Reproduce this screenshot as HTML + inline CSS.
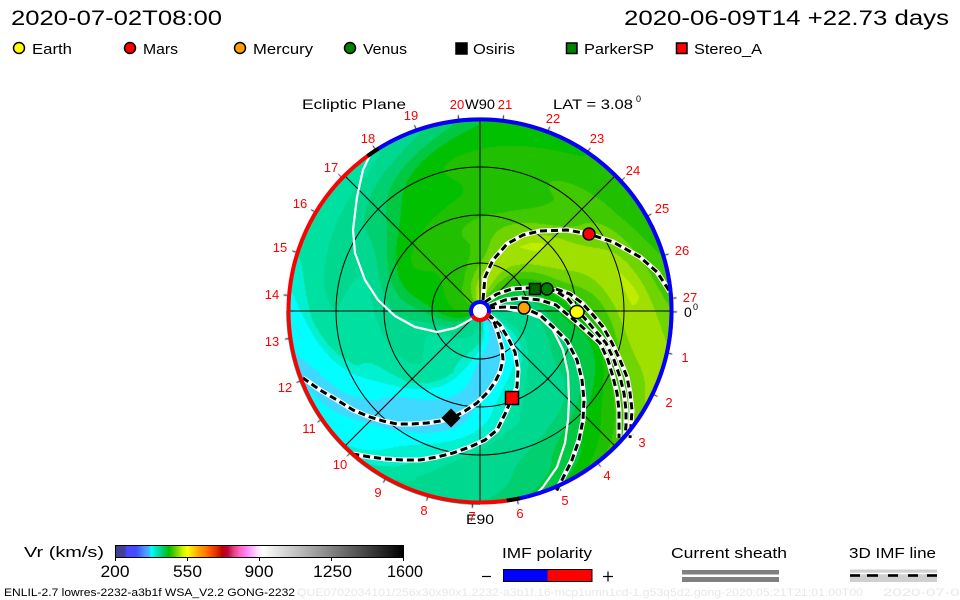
<!DOCTYPE html>
<html><head><meta charset="utf-8">
<style>
html,body{margin:0;padding:0;background:#fff;}
#wrap{position:relative;width:960px;height:600px;overflow:hidden;background:#fff;}
#wrap svg,#wrap canvas{position:absolute;left:0;top:0;}
text{font-family:"Liberation Sans",sans-serif;}
</style></head>
<body>
<div id="wrap">
<svg width="960" height="600" viewBox="0 0 960 600">
  <circle cx="480" cy="311" r="191" fill="#20c000"/>
  <path d="M480 311 L286 311 A194 194 0 0 0 480 505 Z" fill="#00f0d0"/>
</svg>
<canvas id="f" width="960" height="600"></canvas>
<svg width="960" height="600" viewBox="0 0 960 600">
  <defs>
    <linearGradient id="cb" x1="0" x2="1" y1="0" y2="0">
      <stop offset="0" stop-color="#404090"/>
      <stop offset="0.03" stop-color="#404098"/>
      <stop offset="0.04" stop-color="#4848ff"/>
      <stop offset="0.07" stop-color="#4848ff"/>
      <stop offset="0.08" stop-color="#4060ff"/>
      <stop offset="0.10" stop-color="#5090ff"/>
      <stop offset="0.115" stop-color="#40b0ff"/>
      <stop offset="0.125" stop-color="#00ffff"/>
      <stop offset="0.14" stop-color="#00e8c0"/>
      <stop offset="0.155" stop-color="#00d890"/>
      <stop offset="0.17" stop-color="#00c850"/>
      <stop offset="0.185" stop-color="#00c000"/>
      <stop offset="0.20" stop-color="#40c800"/>
      <stop offset="0.215" stop-color="#80d800"/>
      <stop offset="0.23" stop-color="#c0f000"/>
      <stop offset="0.25" stop-color="#ffff00"/>
      <stop offset="0.27" stop-color="#ffd000"/>
      <stop offset="0.29" stop-color="#ffa000"/>
      <stop offset="0.31" stop-color="#ff8000"/>
      <stop offset="0.33" stop-color="#ff5000"/>
      <stop offset="0.35" stop-color="#e03000"/>
      <stop offset="0.37" stop-color="#c00000"/>
      <stop offset="0.39" stop-color="#c00040"/>
      <stop offset="0.41" stop-color="#e04080"/>
      <stop offset="0.43" stop-color="#ff60c0"/>
      <stop offset="0.46" stop-color="#ff90ff"/>
      <stop offset="0.49" stop-color="#ffd8ff"/>
      <stop offset="0.51" stop-color="#ffffff"/>
      <stop offset="1" stop-color="#000000"/>
    </linearGradient>
  </defs>

  <!-- grid -->
  <g stroke="#000" stroke-width="1" fill="none">
    <circle cx="480" cy="311" r="48"/>
    <circle cx="480" cy="311" r="96"/>
    <circle cx="480" cy="311" r="144"/>
    <line x1="287" y1="311" x2="673" y2="311"/>
    <line x1="480" y1="118" x2="480" y2="504"/>
    <line x1="345.6" y1="176.6" x2="614.4" y2="445.4"/>
    <line x1="345.6" y1="445.4" x2="614.4" y2="176.6"/>
  </g>

  <!-- current sheath (white solid) -->
  <g stroke="#fff" stroke-width="2.2" fill="none" stroke-linejoin="round" stroke-linecap="round">
    <polyline points="371,153 363,170 357,197 353,230 355,253 365,280 378,300 395,316 415,327 437,332 455,328 470,320 478,313"/>
    <polyline points="488,309 505,309 523,312 540,318 553,330 563,350 568,373 569,400 568,420 565,443 557,467 543,487 530,501"/>
  </g>

  <!-- 3D IMF lines -->
  <g fill="none" stroke-linejoin="round">
    <g stroke="#fff" stroke-width="5">
      <polyline points="483,300 485,277 493,260 507,244 523,235 540,231 567,230 589,234 613,242 640,257 657,272 670,292"/>
      <polyline points="485,302 497,294 512,289 527,288 541,288 556,291 568,299 577,310 588,322 598,334 606,343 614,360 620,377 624,393 626,410 626,425 625,438"/>
      <polyline points="556,289 570,294 582,303 593,315 603,327 612,343 620,360 627,377 630,393 632,410 631,425 630,438"/>
      <polyline points="490,306 505,300 522,298 540,300 556,305 568,315 580,325 591,335 600,343 608,360 613,377 617,393 619,410 619,425 619,438"/>
      <polyline points="488,308 505,307 524,308 540,315 553,327 567,341 577,360 582,380 584,400 583,420 579,440 572,460 562,480 556,492"/>
      <polyline points="488,314 500,325 508,338 515,352 518,370 517,387 512,398 505,414 497,430 485,440 470,447 453,453 437,457 420,460 403,460 386,459 370,457 353,454"/>
      <polyline points="487,313 494,322 498,333 502,347 503,360 500,372 495,382 488,392 477,403 465,411 452,418 440,421 427,423 412,424 397,424 383,421 370,417 353,410 337,400 320,390 303,378"/>
    </g>
    <g stroke="#000" stroke-width="3" stroke-dasharray="7 4">
      <polyline points="483,300 485,277 493,260 507,244 523,235 540,231 567,230 589,234 613,242 640,257 657,272 670,292"/>
      <polyline points="485,302 497,294 512,289 527,288 541,288 556,291 568,299 577,310 588,322 598,334 606,343 614,360 620,377 624,393 626,410 626,425 625,438"/>
      <polyline points="556,289 570,294 582,303 593,315 603,327 612,343 620,360 627,377 630,393 632,410 631,425 630,438"/>
      <polyline points="490,306 505,300 522,298 540,300 556,305 568,315 580,325 591,335 600,343 608,360 613,377 617,393 619,410 619,425 619,438"/>
      <polyline points="488,308 505,307 524,308 540,315 553,327 567,341 577,360 582,380 584,400 583,420 579,440 572,460 562,480 556,492"/>
      <polyline points="488,314 500,325 508,338 515,352 518,370 517,387 512,398 505,414 497,430 485,440 470,447 453,453 437,457 420,460 403,460 386,459 370,457 353,454"/>
      <polyline points="487,313 494,322 498,333 502,347 503,360 500,372 495,382 488,392 477,403 465,411 452,418 440,421 427,423 412,424 397,424 383,421 370,417 353,410 337,400 320,390 303,378"/>
    </g>
  </g>

  <!-- outer ring -->
  <circle cx="480" cy="311" r="191.5" fill="none" stroke="#ff0000" stroke-width="4"/>
  <path d="M378.5 148.6 A191.5 191.5 0 1 1 519.8 498.3" fill="none" stroke="#0000ff" stroke-width="4"/>
  <path d="M367.4 156.1 A191.5 191.5 0 0 1 378.5 148.6" fill="none" stroke="#000" stroke-width="4"/>
  <path d="M519.8 498.3 A191.5 191.5 0 0 1 506.7 500.6" fill="none" stroke="#000" stroke-width="4"/>

  <!-- sun -->
  <circle cx="480" cy="311" r="9" fill="#fff" stroke="#0000ff" stroke-width="4"/>
  <path d="M488.7 313.3 A9 9 0 0 1 472.2 315.5" fill="none" stroke="#ff0000" stroke-width="4"/>

  <!-- spacecraft / planets -->
  <g stroke="#000" stroke-width="1.5">
    <circle cx="589" cy="234" r="6" fill="#ff0000"/>
    <rect x="529.5" y="283.5" width="11" height="11" fill="#006400"/>
    <circle cx="547" cy="289" r="6" fill="#008000"/>
    <circle cx="524" cy="308" r="6" fill="#ffa000"/>
    <ellipse cx="577" cy="312" rx="7" ry="6.5" fill="#ffff00"/>
    <rect x="505.5" y="391.5" width="13" height="13" fill="#ff0000"/>
    <polygon points="451,409.5 459.5,418 451,426.5 442.5,418" fill="#000"/>
  </g>

  <!-- header -->
  <text x="11" y="25" font-size="21" textLength="211" lengthAdjust="spacingAndGlyphs">2020-07-02T08:00</text>
  <text x="624" y="25" font-size="21" textLength="325" lengthAdjust="spacingAndGlyphs">2020-06-09T14 +22.73 days</text>

  <!-- legend -->
  <g stroke="#000" stroke-width="1.5">
    <circle cx="19" cy="48" r="5.5" fill="#ffff00"/>
    <circle cx="130" cy="48" r="5.5" fill="#ff0000"/>
    <circle cx="240" cy="48" r="5.5" fill="#ffa000"/>
    <circle cx="350" cy="48" r="5.5" fill="#008000"/>
    <rect x="456" y="43" width="11" height="11" fill="#000"/>
    <rect x="566.5" y="43" width="10.5" height="10.5" fill="#008000"/>
    <rect x="676.5" y="43" width="10.5" height="10.5" fill="#ff0000"/>
  </g>
  <g font-size="15">
    <text x="32" y="54" textLength="40" lengthAdjust="spacingAndGlyphs">Earth</text>
    <text x="143" y="54" textLength="35" lengthAdjust="spacingAndGlyphs">Mars</text>
    <text x="253" y="54" textLength="60" lengthAdjust="spacingAndGlyphs">Mercury</text>
    <text x="363" y="54" textLength="44" lengthAdjust="spacingAndGlyphs">Venus</text>
    <text x="473" y="54" textLength="42" lengthAdjust="spacingAndGlyphs">Osiris</text>
    <text x="584" y="54" textLength="70" lengthAdjust="spacingAndGlyphs">ParkerSP</text>
    <text x="694" y="54" textLength="68" lengthAdjust="spacingAndGlyphs">Stereo_A</text>
  </g>

  <!-- title row -->
  <g font-size="14">
    <text x="302" y="109" textLength="104" lengthAdjust="spacingAndGlyphs">Ecliptic Plane</text>
    <text x="465" y="109" textLength="30" lengthAdjust="spacingAndGlyphs">W90</text>
    <text x="553" y="109" textLength="80" lengthAdjust="spacingAndGlyphs">LAT = 3.08</text>
    <text x="636" y="102" font-size="9">0</text>
    <text x="466" y="524" textLength="28" lengthAdjust="spacingAndGlyphs">E90</text>
    <text x="684" y="317">0</text>
    <text x="693" y="310" font-size="9">0</text>
  </g>

  <!-- ring labels -->
  <g font-size="13" fill="#ff0000" text-anchor="middle">
    <text x="685" y="362">1</text>
    <text x="669" y="407">2</text>
    <text x="642" y="447">3</text>
    <text x="607" y="480">4</text>
    <text x="565" y="505">5</text>
    <text x="520" y="518">6</text>
    <text x="472" y="521">7</text>
    <text x="424" y="515">8</text>
    <text x="378" y="497">9</text>
    <text x="340" y="469">10</text>
    <text x="309" y="433">11</text>
    <text x="285" y="392">12</text>
    <text x="272" y="346">13</text>
    <text x="272" y="299">14</text>
    <text x="280" y="252">15</text>
    <text x="300" y="208">16</text>
    <text x="331" y="172">17</text>
    <text x="368" y="143">18</text>
    <text x="411" y="120">19</text>
    <text x="457" y="109">20</text>
    <text x="505" y="109">21</text>
    <text x="553" y="123">22</text>
    <text x="597" y="143">23</text>
    <text x="633" y="175">24</text>
    <text x="662" y="213">25</text>
    <text x="682" y="255">26</text>
    <text x="690" y="302">27</text>
  </g>

  <!-- colorbar -->
  <text x="24" y="557" font-size="15" textLength="80" lengthAdjust="spacingAndGlyphs">Vr (km/s)</text>
  <rect x="115.5" y="545.5" width="288" height="12" fill="url(#cb)" stroke="#000" stroke-width="1"/>
  <g stroke="#000" stroke-width="1">
    <line x1="115.5" y1="557" x2="115.5" y2="561"/>
    <line x1="187.5" y1="557" x2="187.5" y2="561"/>
    <line x1="259.5" y1="557" x2="259.5" y2="561"/>
    <line x1="331.5" y1="557" x2="331.5" y2="561"/>
    <line x1="403.5" y1="557" x2="403.5" y2="561"/>
  </g>
  <g font-size="17" text-anchor="middle">
    <text x="115" y="577" textLength="29" lengthAdjust="spacingAndGlyphs">200</text>
    <text x="187.5" y="577" textLength="29" lengthAdjust="spacingAndGlyphs">550</text>
    <text x="259" y="577" textLength="29" lengthAdjust="spacingAndGlyphs">900</text>
    <text x="332.5" y="577" textLength="39" lengthAdjust="spacingAndGlyphs">1250</text>
    <text x="405" y="577" textLength="36" lengthAdjust="spacingAndGlyphs">1600</text>
  </g>

  <!-- footer -->
  <text x="4" y="596" font-size="11" textLength="291" lengthAdjust="spacingAndGlyphs">ENLIL-2.7 lowres-2232-a3b1f WSA_V2.2 GONG-2232</text>
  <text x="297" y="596" font-size="11" fill="#e8e8e8" textLength="566" lengthAdjust="spacingAndGlyphs">QUE0702034101/256x30x90x1.2232-a3b1f.16-mcp1umn1cd-1.g53q5d2.gong-2020:05:21T21:01:00T00</text>
  <text x="883" y="596" font-size="11" fill="#e8e8e8" textLength="86" lengthAdjust="spacingAndGlyphs">2020-07-02</text>

  <!-- IMF polarity -->
  <text x="502" y="558" font-size="15" textLength="90" lengthAdjust="spacingAndGlyphs">IMF polarity</text>
  <line x1="482" y1="576.5" x2="491" y2="576.5" stroke="#000" stroke-width="1.2"/>
  <rect x="503.5" y="569.5" width="44" height="12" fill="#0000ff"/>
  <rect x="547.5" y="569.5" width="44.5" height="12" fill="#ff0000"/>
  <rect x="503.5" y="569.5" width="88.5" height="12" fill="none" stroke="#000" stroke-width="1"/>
  <line x1="603" y1="576.5" x2="613" y2="576.5" stroke="#000" stroke-width="1.2"/>
  <line x1="608" y1="571.5" x2="608" y2="581.5" stroke="#000" stroke-width="1.2"/>

  <!-- Current sheath -->
  <text x="671" y="558" font-size="15" textLength="116" lengthAdjust="spacingAndGlyphs">Current sheath</text>
  <rect x="682" y="570" width="97" height="4.5" fill="#808080"/>
  <rect x="682" y="577" width="97" height="5" fill="#808080"/>

  <!-- 3D IMF line -->
  <text x="849" y="558" font-size="15" textLength="87" lengthAdjust="spacingAndGlyphs">3D IMF line</text>
  <rect x="850" y="569.5" width="87" height="12.5" fill="#d0d0d0"/>
  <rect x="850" y="572.7" width="87" height="1.5" fill="#fff"/>
  <g fill="#000">
    <rect x="850" y="574.2" width="10" height="2.6"/>
    <rect x="867" y="574.2" width="11" height="2.6"/>
    <rect x="888" y="574.2" width="10" height="2.6"/>
    <rect x="908" y="574.2" width="10" height="2.6"/>
    <rect x="927" y="574.2" width="10" height="2.6"/>
  </g>
</svg>
</div>
<script>
(function(){
var c=document.getElementById('f');if(!c||!c.getContext)return;
var g=c.getContext('2d');
var W=960,H=600,cx=480,cy=311,R=191,AU=96;
var d=g.createImageData(W,H),p=d.data;
var S=[[0,405],[20,412],[40,440],[55,465],[70,505],[90,548],[105,552],[120,525],[140,500],[175,485],[205,470],[222,432],[240,405],[270,395],[288,380],[296,352],[305,340],[312,328],[322,328],[335,350],[348,375],[360,405]];
var C=[[0,[64,160,255]],[320,[64,216,255]],[340,[0,255,255]],[360,[0,240,208]],[380,[0,224,160]],[400,[0,216,144]],[420,[0,208,112]],[440,[0,200,64]],[460,[0,192,0]],[480,[32,192,0]],[500,[64,200,0]],[520,[112,212,0]],[540,[160,224,0]],[556,[192,236,0]]];
function V(a){for(var i=1;i<S.length;i++){if(a<=S[i][0]){var t=(a-S[i-1][0])/(S[i][0]-S[i-1][0]);return S[i-1][1]+t*(S[i][1]-S[i-1][1]);}}return 405;}
for(var y=cy-R-1;y<=cy+R+1;y++){for(var x=cx-R-1;x<=cx+R+1;x++){
  var dx=x+0.5-cx,dy=cy-(y+0.5),r=Math.sqrt(dx*dx+dy*dy);
  if(r>R+0.5)continue;
  var ra=r/AU,ph=Math.atan2(dy,dx)*180/Math.PI,p0=ph+60*ra;
  p0=((p0%360)+360)%360;
  var v=V(p0);
  if(v<345)v+=40*Math.max(0,ra-1.55);
  v+=6*Math.sin(ra*9);
  var col=C[0][1];
  for(var k=0;k<C.length;k++){if(v>=C[k][0])col=C[k][1];}
  var o=(y*W+x)*4;p[o]=col[0];p[o+1]=col[1];p[o+2]=col[2];p[o+3]=255;
}}
g.putImageData(d,0,0);
/* small ticks on outer ring at each label */
var L=[[685,357],[669,402],[642,442],[607,475],[565,500],[520,513],[472,516],[424,510],[378,492],[340,464],[309,428],[285,387],[272,341],[272,294],[280,247],[300,203],[331,167],[368,138],[411,115],[457,104],[505,104],[553,118],[597,138],[633,170],[662,208],[682,250],[690,297],[692,312]];
g.strokeStyle='#000';g.lineWidth=1;
for(var i=0;i<L.length;i++){var a=Math.atan2(L[i][1]-cy,L[i][0]-cx);
  g.beginPath();g.moveTo(cx+193*Math.cos(a),cy+193*Math.sin(a));g.lineTo(cx+197*Math.cos(a),cy+197*Math.sin(a));g.stroke();}
})();
</script>
</body></html>
